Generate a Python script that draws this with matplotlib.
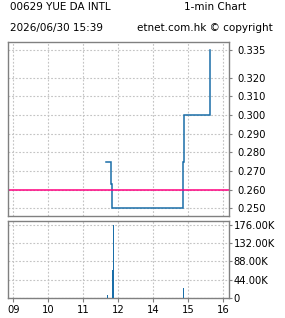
import matplotlib
matplotlib.use("Agg")
import matplotlib.pyplot as plt

# ---- data ----
price_times = ["11:39", "11:48", "11:50", "14:50", "14:52", "15:37"]
prices = [0.275, 0.263, 0.250, 0.275, 0.300, 0.335]
prev_close = 0.260

vol_times = ["11:41", "11:50", "11:51", "14:51"]
volumes = [6500, 66000, 176000, 24000]

x_tick_labels = ["09", "10", "11", "12", "14", "15", "16"]
price_ticks = [0.250, 0.260, 0.270, 0.280, 0.290, 0.300, 0.310, 0.320, 0.335]
vol_ticks = [0, 44000, 88000, 132000, 176000]
vol_tick_labels = ["0", "44.00K", "88.00K", "132.00K", "176.00K"]

title_left = "00629 YUE DA INTL"
title_right = "1-min Chart"
sub_left = "2026/06/30 15:39"
sub_right = "etnet.com.hk \u00a9 copyright"


def to_pos(t):
    h, m = map(int, t.split(":"))
    v = h + m / 60.0
    if v >= 13:
        v -= 1.0  # lunch break removed
    return v - 9.0


LINE = "#1a6ea8"
MAG = "#ff0080"
FRAME = "#808080"
GRID = "#c4c4c4"
FS = 7.2

plt.rcParams["font.family"] = ["DejaVu Sans"]

W, H = 285, 318
fig = plt.figure(figsize=(W / 100, H / 100), dpi=100)


def box(l, t, r, b):
    return [l / W, 1 - b / H, (r - l) / W, (b - t) / H]


ax = fig.add_axes(box(8.3, 41.7, 229.3, 216))
axv = fig.add_axes(box(8.3, 221, 229.3, 297.7))

xpos = [to_pos(t) for t in price_times]
ax.plot(xpos, prices, drawstyle="steps-post", color=LINE, lw=1.1, solid_joinstyle="miter")
ax.axhline(prev_close, color=MAG, lw=1.1)

vx = [to_pos(t) for t in vol_times]
axv.vlines(vx, 0, volumes, colors=LINE, linewidth=0.72, antialiased=False, zorder=3)

xt = list(range(len(x_tick_labels)))
for a in (ax, axv):
    a.set_xlim(-0.143, 6.17)
    a.set_xticks(xt)
    a.grid(True, color=GRID, ls=(0, (1.6, 1.6)), lw=0.8)
    a.set_axisbelow(True)
    for s in a.spines.values():
        s.set_color(FRAME)
        s.set_linewidth(1.0)
    a.yaxis.tick_right()
    a.tick_params(axis="y", which="both", direction="out", length=2.5, width=0.8,
                  color=FRAME, labelsize=FS, left=False, right=True)

ax.set_ylim(0.2459, 0.3393)
ax.set_yticks(price_ticks)
ax.set_yticklabels([f"{v:.3f}" for v in price_ticks])
ax.tick_params(axis="x", length=0, labelbottom=False)
ax.tick_params(axis="y", pad=3)

axv.set_ylim(0, 185700)
axv.set_yticks(vol_ticks)
axv.set_yticklabels(vol_tick_labels)
axv.tick_params(axis="y", pad=0.5)
axv.set_xticklabels(x_tick_labels)
axv.tick_params(axis="x", direction="out", length=3, width=0.8, color=FRAME,
                labelsize=FS, pad=2)

fig.text(10 / W, 1 - 7.5 / H, title_left, fontsize=FS + 0.3, va="center", ha="left")
fig.text(184 / W, 1 - 7.5 / H, title_right, fontsize=FS + 0.3, va="center", ha="left")
fig.text(10 / W, 1 - 28 / H, sub_left, fontsize=FS + 0.3, va="center", ha="left")
fig.text(137 / W, 1 - 28 / H, sub_right, fontsize=FS + 0.3, va="center", ha="left")

fig.savefig("out.png", dpi=100, facecolor="white")
